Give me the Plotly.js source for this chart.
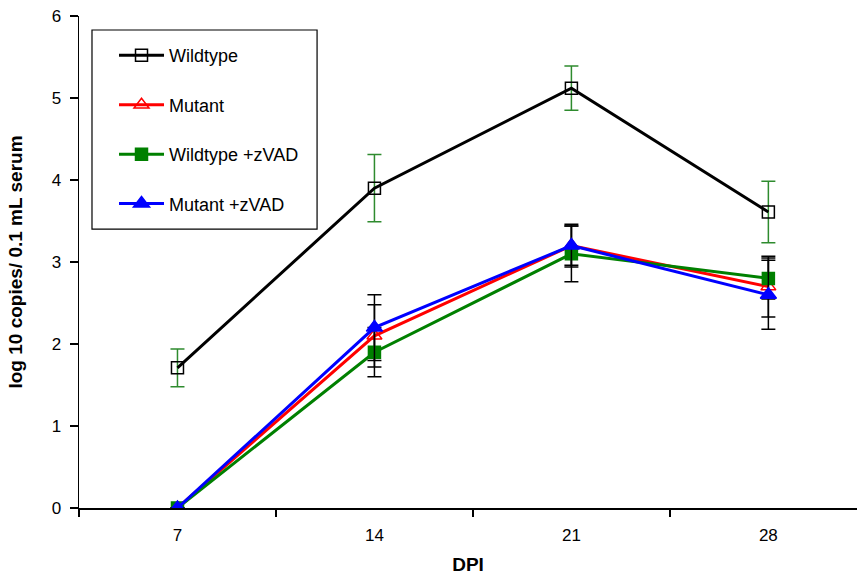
<!DOCTYPE html>
<html><head><meta charset="utf-8">
<script src="https://cdn.plot.ly/plotly-3.0.1.min.js"></script>
<style>html,body{margin:0;padding:0;background:#fff}#chart{width:858px;height:579px}</style>
</head><body><div id="chart"></div>
<script>
const dpi = ['7','14','21','28'];
const xpos = [0,1,2,3];
const wildtype = [1.71, 3.9, 5.12, 3.61];
const wildtypeErr = [0.23, 0.41, 0.27, 0.375];
const mutant = [0, 2.1, 3.2, 2.7];
const mutantErr = [0, 0.38, 0.26, 0.37];
const wtZvad = [0, 1.9, 3.1, 2.8];
const wtZvadErr = [0, 0.3, 0.34, 0.25];
const mutZvad = [0, 2.2, 3.2, 2.6];
const mutZvadErr = [0, 0.4, 0.24, 0.42];

function tr(name, y, err, color, errColor, symbol, size, lg){
  return {x: xpos, y: y, name: name, type:'scatter', mode:'lines+markers',
    legendgroup: lg,
    line:{color: color, width:3},
    marker:{symbol: symbol, size: size, color: color, line:{color: color, width:1.5}},
    error_y:{type:'data', array: err, visible:true, color: errColor, thickness:1.5, width:7}};
}
const data = [
  tr('Wildtype', wildtype, wildtypeErr, '#000000', '#2e8b2e', 'square-open', 12, 'a'),
  tr('Mutant', mutant, mutantErr, '#ff0000', '#000000', 'triangle-up-open', 13, 'b'),
  tr('Wildtype +zVAD', wtZvad, wtZvadErr, '#008000', '#000000', 'square', 12, 'c'),
  tr('Mutant +zVAD', mutZvad, mutZvadErr, '#0000ff', '#000000', 'triangle-up', 14, 'd')
];
const layout = {
  width:858, height:579,
  margin:{l:79, r:1, t:16, b:71},
  paper_bgcolor:'#fff', plot_bgcolor:'#fff',
  font:{family:'Liberation Sans, Arial, sans-serif', color:'#000', size:17},
  showlegend:true,
  legend:{x:0.045, y:0.957, xanchor:'left', yanchor:'top', borderwidth:0,
    bgcolor:'rgba(0,0,0,0)', font:{size:18}, traceorder:'grouped', tracegroupgap:23, itemwidth:45},
  shapes:[{type:'rect', xref:'paper', yref:'paper', x0:0.0167, x1:0.306, y0:0.567, y1:0.9715,
    line:{color:'#000', width:1.2}, fillcolor:'#fff', layer:'below'}],
  xaxis:{range:[-0.5,3.45], tickmode:'array', tickvals:xpos, ticktext:dpi, ticks:'',
    ticklabelstandoff:11,
    showgrid:false, zeroline:false, showline:true, linecolor:'#000', linewidth:1.5,
    tickfont:{size:17},
    minor:{tickmode:'array', tickvals:[-0.5,0.5,1.5,2.5], ticks:'outside', ticklen:7, tickwidth:1.5, tickcolor:'#000', showgrid:false},
    title:{text:'<b>DPI</b>', font:{size:19}, standoff:14}},
  yaxis:{range:[0,6], tickvals:[0,1,2,3,4,5,6], ticks:'outside', ticklen:8, tickwidth:1.5, tickcolor:'#000',
    ticklabelstandoff:5,
    showgrid:false, zeroline:false, showline:true, linecolor:'#000', linewidth:1.5,
    tickfont:{size:17},
    title:{text:'<b>log 10 copies/ 0.1 mL serum</b>', font:{size:19}, standoff:24}}
};
Plotly.newPlot('chart', data, layout, {displayModeBar:false, staticPlot:true});
</script></body></html>
